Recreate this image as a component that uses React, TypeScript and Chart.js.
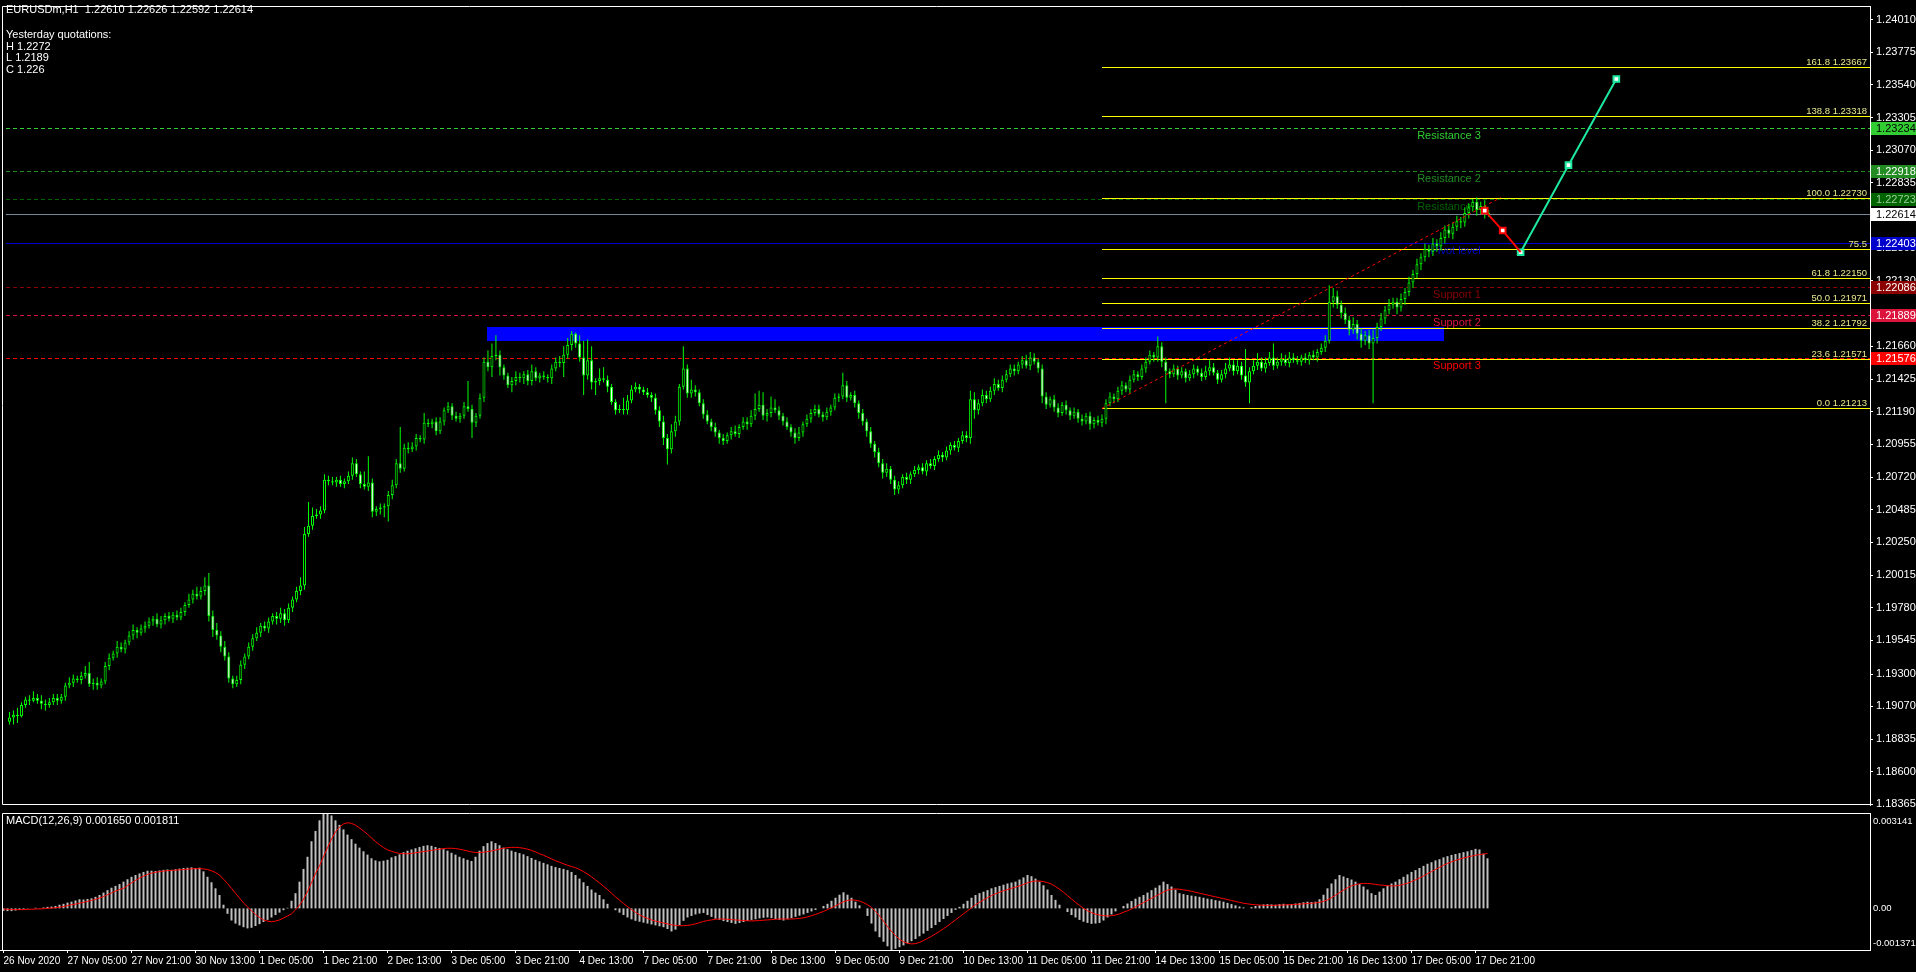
import React, { useEffect, useRef } from 'react';
import { Chart, registerables } from 'chart.js';

Chart.register(...registerables);

// ---------------- text ----------------
const SYMBOL_TEXT = 'EURUSDm,H1  1.22610 1.22626 1.22592 1.22614';
const INFO_LINES = ['Yesterday quotations:', 'H 1.2272', 'L 1.2189', 'C 1.226'];
const MACD_TITLE = 'MACD(12,26,9) 0.001650 0.001811';

// ---------------- time axis ----------------
const TIME_LABELS = [
  '26 Nov 2020', '27 Nov 05:00', '27 Nov 21:00', '30 Nov 13:00', '1 Dec 05:00', '1 Dec 21:00',
  '2 Dec 13:00', '3 Dec 05:00', '3 Dec 21:00', '4 Dec 13:00', '7 Dec 05:00', '7 Dec 21:00',
  '8 Dec 13:00', '9 Dec 05:00', '9 Dec 21:00', '10 Dec 13:00', '11 Dec 05:00', '11 Dec 21:00',
  '14 Dec 13:00', '15 Dec 05:00', '15 Dec 21:00', '16 Dec 13:00', '17 Dec 05:00', '17 Dec 21:00',
];
const LABEL_STEP = 16; // bars between time labels

// ---------------- price axis ----------------
const PRICE_TICKS = [
  1.24010, 1.23775, 1.23540, 1.23305, 1.23070, 1.22835, 1.22600, 1.22365, 1.22130, 1.21895,
  1.21660, 1.21425, 1.21190, 1.20955, 1.20720, 1.20485, 1.20250, 1.20015, 1.19780, 1.19545,
  1.19300, 1.19070, 1.18835, 1.18600, 1.18365,
];
const PRICE_MAX = 1.24108;
const PRICE_MIN = 1.18361;

// ---------------- candles (H1, prices in pips: 11899 = 1.1899) ----------------
const FIRST_OPEN = 11896;
const CLOSES = [
  // 26 Nov 13:00-23:00
  11899, 11901, 11900, 11908, 11912, 11911, 11913, 11911, 11909, 11908, 11910,
  // 27 Nov
  11913, 11911, 11914, 11922, 11924, 11927, 11926, 11929, 11931, 11923, 11924, 11922, 11925, 11936, 11942, 11945, 11950, 11948, 11953, 11958, 11962, 11960, 11963, 11965,
  // 30 Nov
  11968, 11970, 11966, 11969, 11972, 11970, 11973, 11971, 11975, 11980, 11984, 11988, 11986, 11990, 11994, 11972, 11962, 11958, 11950, 11943, 11927, 11923, 11926, 11937,
  // 1 Dec
  11943, 11950, 11956, 11960, 11965, 11963, 11968, 11972, 11970, 11974, 11969, 11978, 11984, 11990, 11994, 12031, 12037, 12044, 12045, 12048, 12070, 12069, 12068, 12070,
  // 2 Dec
  12067, 12069, 12073, 12082, 12074, 12067, 12065, 12068, 12047, 12049, 12050, 12051, 12059, 12066, 12082, 12078, 12093, 12092, 12094, 12100, 12099, 12111, 12110, 12112,
  // 3 Dec
  12105, 12112, 12120, 12123, 12116, 12114, 12116, 12123, 12121, 12111, 12116, 12129, 12155, 12151, 12159, 12160, 12151, 12145, 12138, 12141, 12144, 12143, 12146, 12141,
  // 4 Dec
  12148, 12143, 12145, 12144, 12143, 12150, 12155, 12154, 12160, 12167, 12175, 12168, 12158, 12145, 12156, 12140, 12141, 12143, 12142, 12137, 12126, 12120, 12121, 12120,
  // 7 Dec
  12127, 12135, 12137, 12135, 12133, 12131, 12129, 12120, 12112, 12100, 12092, 12105, 12112, 12137, 12150, 12132, 12135, 12133, 12125, 12117, 12112, 12108, 12104, 12100,
  // 8 Dec
  12098, 12102, 12105, 12103, 12108, 12112, 12110, 12116, 12121, 12124, 12116, 12118, 12122, 12120, 12116, 12112, 12108, 12104, 12100, 12104, 12110, 12114, 12118, 12121,
  // 9 Dec
  12117, 12115, 12119, 12122, 12129, 12130, 12138, 12129, 12131, 12125, 12118, 12112, 12105, 12096, 12090, 12082, 12075, 12078, 12070, 12063, 12066, 12072, 12070, 12074,
  // 10 Dec
  12077, 12079, 12076, 12082, 12080, 12085, 12088, 12086, 12091, 12095, 12093, 12098, 12102, 12100, 12128, 12120, 12125, 12131, 12128, 12134, 12139, 12136, 12142, 12146,
  // 11 Dec
  12150, 12148, 12153, 12156, 12152, 12158, 12155, 12150, 12130, 12124, 12128, 12122, 12118, 12124, 12120, 12116, 12119, 12114, 12112, 12116, 12110, 12113, 12111, 12114,
  // 14 Dec
  12125, 12130, 12128, 12134, 12138, 12135, 12142, 12146, 12144, 12150, 12155, 12160, 12158, 12166, 12155, 12148, 12146, 12150, 12145, 12148, 12143, 12146, 12150, 12147,
  // 15 Dec
  12144, 12148, 12151, 12147, 12142, 12146, 12150, 12153, 12148, 12152, 12145, 12140, 12148, 12152, 12155, 12150, 12154, 12158, 12152, 12155, 12157, 12154, 12158, 12156,
  // 16 Dec
  12155, 12158, 12156, 12160, 12158, 12162, 12165, 12170, 12198, 12202, 12196, 12190, 12185, 12178, 12182, 12175, 12170, 12174, 12168, 12172, 12180, 12186, 12192, 12196,
  // 17 Dec
  12198, 12194, 12200, 12205, 12212, 12218, 12225, 12230, 12236, 12234, 12240, 12238, 12244, 12250, 12247, 12252, 12256, 12255, 12262, 12266, 12270, 12264, 12267, 12262,
  // 18 Dec 00:00
  12261,
];
const UPPER_WICK = [
  4, 3, 5, 2, 2, 3, 5, 3, 4, 3, 3,
  3, 3, 2, 2, 4, 3, 2, 3, 5, 8, 3, 4, 2, 3, 3, 2, 4, 3, 2, 3, 4, 2, 3, 3,
  3, 2, 4, 3, 2, 3, 2, 3, 3, 2, 4, 3, 5, 3, 6, 9, 4, 5, 3, 4, 3, 2, 3, 3,
  2, 3, 3, 4, 2, 3, 3, 2, 3, 4, 3, 3, 2, 3, 6, 5, 17, 6, 4, 3, 4, 3, 3, 2,
  3, 2, 3, 4, 3, 2, 9, 19, 3, 2, 3, 2, 3, 4, 3, 26, 3, 4, 3, 3, 2, 7, 3, 2,
  3, 3, 2, 3, 2, 3, 2, 3, 18, 3, 2, 3, 3, 8, 9, 14, 3, 2, 2, 3, 4, 3, 2, 3,
  5, 3, 2, 3, 2, 3, 3, 4, 6, 5, 2, 1, 6, 12, 15, 10, 2, 7, 8, 3, 2, 2, 3, 8,
  4, 3, 3, 2, 2, 3, 2, 3, 3, 4, 3, 5, 4, 2, 16, 3, 7, 3, 2, 3, 3, 2, 3, 2,
  3, 2, 3, 4, 2, 3, 3, 4, 11, 10, 9, 3, 8, 6, 3, 2, 3, 2, 3, 4, 2, 3, 3, 3,
  3, 2, 3, 2, 3, 2, 9, 3, 2, 3, 2, 3, 2, 3, 2, 3, 3, 4, 2, 3, 3, 2, 3, 2,
  3, 2, 3, 2, 3, 2, 3, 2, 3, 2, 3, 2, 3, 3, 6, 5, 3, 4, 3, 3, 4, 3, 3, 3,
  3, 3, 2, 3, 4, 4, 3, 2, 3, 3, 2, 3, 3, 2, 3, 2, 3, 2, 3, 2, 3, 2, 3, 3,
  3, 3, 2, 3, 3, 2, 3, 3, 2, 3, 3, 3, 2, 7, 3, 3, 2, 3, 2, 3, 2, 3, 3, 2,
  3, 4, 5, 3, 2, 3, 4, 5, 3, 4, 3, 19, 3, 4, 6, 3, 4, 4, 10, 3, 4, 3, 4, 3,
  3, 2, 3, 2, 3, 2, 3, 4, 12, 6, 4, 3, 4, 3, 5, 3, 4, 3, 4, 6, 3, 4, 3, 4,
  3, 3, 4, 3, 4, 3, 4, 3, 4, 3, 4, 3, 4, 3, 4, 3, 4, 3, 4, 3, 2, 3, 3, 4,
  2,
];
const LOWER_WICK = [
  2, 5, 5, 1, 2, 3, 1, 2, 4, 4, 2,
  2, 3, 2, 3, 2, 3, 2, 3, 2, 2, 4, 3, 2, 2, 3, 2, 3, 2, 3, 2, 3, 4, 2, 3,
  2, 3, 2, 3, 3, 2, 3, 2, 2, 3, 2, 3, 2, 2, 3, 4, 5, 3, 4, 3, 3, 3, 2, 3,
  3, 2, 3, 2, 3, 2, 3, 2, 4, 3, 4, 2, 3, 2, 3, 3, 2, 3, 2, 3, 2, 3, 2, 3,
  2, 3, 2, 3, 2, 3, 2, 3, 4, 3, 4, 7, 11, 3, 2, 3, 2, 3, 2, 3, 2, 3, 2, 3,
  3, 2, 3, 2, 3, 2, 3, 2, 2, 11, 3, 2, 3, 3, 7, 3, 6, 3, 2, 5, 3, 3, 4, 3,
  3, 2, 3, 2, 3, 4, 2, 3, 10, 3, 4, 3, 3, 14, 3, 5, 9, 3, 2, 4, 2, 3, 2, 3,
  3, 2, 2, 3, 2, 2, 3, 3, 4, 5, 11, 3, 4, 3, 2, 3, 3, 3, 2, 3, 2, 3, 3, 4,
  3, 2, 3, 2, 3, 2, 4, 2, 3, 2, 3, 4, 3, 2, 3, 3, 2, 3, 4, 2, 3, 2, 3, 2,
  2, 3, 2, 3, 2, 3, 2, 3, 2, 3, 4, 3, 4, 3, 4, 3, 4, 3, 3, 4, 3, 2, 3, 3,
  2, 3, 2, 3, 2, 3, 2, 3, 2, 3, 2, 3, 2, 3, 4, 6, 3, 2, 3, 2, 3, 2, 3, 2,
  2, 3, 2, 3, 2, 3, 2, 3, 5, 3, 2, 3, 3, 2, 3, 3, 2, 3, 3, 2, 4, 3, 2, 3,
  4, 2, 3, 2, 3, 2, 3, 2, 3, 2, 3, 2, 3, 3, 4, 23, 3, 2, 3, 2, 3, 2, 3, 2,
  3, 2, 3, 2, 3, 2, 3, 2, 3, 2, 3, 3, 15, 2, 3, 2, 3, 2, 3, 2, 3, 2, 3, 2,
  2, 3, 2, 3, 2, 3, 2, 3, 2, 4, 3, 4, 3, 4, 3, 4, 5, 3, 4, 43, 4, 3, 4, 3,
  3, 5, 3, 4, 3, 4, 3, 4, 3, 4, 3, 4, 3, 4, 3, 4, 3, 4, 3, 4, 3, 4, 3, 4,
  2,
];

// ---------------- MACD (units of 0.00001) ----------------
const MACD_MAIN = [
  -8, -9, -9, -7, -5, -3,
  -1, 0, 2, 1, 3, 5, 6,
  8, 12, 15, 19, 22, 26, 30, 29, 31, 33, 38, 44,
  52, 60, 68, 74, 80, 88,
  96, 104, 110, 115, 120, 124,
  124, 123, 125, 127, 128, 127, 129, 131, 133, 134, 135, 133,
  134, 122, 104, 86, 66, 44, 12, -18, -40, -50, -56, -62, -66, -64,
  -58, -52, -45, -38, -30, -22, -14, -6, 2,
  25, 50, 88, 130, 170, 221, 255, 290, 314, 312, 306,
  290, 275, 260, 243,
  228, 213, 200, 188, 177,
  165, 158, 155, 157, 160,
  168, 172, 178, 185,
  190, 194, 198, 202, 206, 208, 206, 202, 199,
  195, 190, 183, 177, 170, 165, 160, 156,
  170, 190, 205, 215, 221,
  215, 208, 200, 195, 190, 186, 182, 178, 172, 166, 160, 155,
  150, 145, 140, 136, 133, 130, 126, 120, 110,
  98, 86, 74, 62, 52, 44,
  30, 15, 0,
  -6, -14, -22, -30, -36, -41,
  -44, -47, -50, -53, -56, -59, -62, -68,
  -76, -70, -55, -41,
  -30, -25, -20, -17, -15,
  -22, -28, -34, -38, -42, -45, -48, -51,
  -48, -45, -41, -38, -36, -33, -31, -30, -32, -35, -38, -40,
  -36, -32, -28, -24, -20, -15, -10, -5, 0,
  8, 15, 25, 35, 45, 53,
  45, 35, 22, 10, 0,
  -25, -50, -76,
  -95, -110, -125, -137, -133, -128,
  -122, -115, -108, -101,
  -92, -83, -74, -65, -55, -45, -35, -25,
  -15, -5, 5, 15, 25,
  35, 44, 50, 55, 60, 66,
  70, 74, 78, 82, 85, 88,
  95, 102, 110, 106,
  98, 88, 76, 62, 44,
  28, 12, 0,
  -12, -22, -30, -38, -44, -48, -51, -50, -48,
  -40, -30, -20, -10, 0,
  8, 16, 24, 32, 38, 44,
  52, 60, 68, 76, 88,
  80, 72, 62, 50,
  47, 44, 42, 40, 38, 35, 32, 30, 27, 25, 22,
  18, 14, 10, 6, 3, 0,
  4, 8, 10, 13, 14, 13, 12, 14, 15, 13, 14, 16,
  18, 20, 22, 21, 22, 30,
  45, 66, 82, 96, 110,
  105, 100, 95, 88,
  80, 72, 62, 50, 44,
  55, 66, 75, 82, 88,
  96, 104, 112, 120, 126, 133,
  140, 147, 152, 158, 162, 168,
  172, 176, 179, 182, 185, 188,
  192, 196, 194, 180, 165,
];
const MACD_SIGNAL = [
  -2, -3, -4, -4, -4, -4, -3, -3, -2, -2, -1, 0, 1,
  2, 4, 6, 9, 12,
  14, 17, 20, 23, 26, 30, 34, 39, 45, 51, 57, 62, 66,
  75, 84, 92, 100, 106, 112, 116,
  119, 121, 123, 124, 125, 126, 127, 128, 129, 130, 131,
  131, 130, 128, 124, 118, 110,
  96, 82, 66, 50, 34, 18,
  5, -8, -20, -30, -38, -42, -44, -42,
  -38, -32, -25, -18,
  -5, 10, 30, 55, 85, 115,
  140, 170, 200, 228, 252, 268, 278, 282,
  280, 274, 265, 255, 244, 232, 220, 210,
  200, 193, 188, 184, 181, 180, 180, 181, 183, 185,
  187, 189, 191, 193, 195, 197, 198, 198, 197, 195, 192, 189, 186, 184, 184, 185, 187, 189,
  192, 195, 198, 200, 201, 201, 200, 198, 195, 191, 186, 180,
  175, 169, 163, 157, 152, 147, 142, 138, 134, 128, 121, 113,
  104, 94, 84, 73, 62, 50,
  38, 27, 16, 6, -4, -13, -21, -28, -33, -38, -42, -45, -48,
  -51, -54, -56, -57, -57, -56, -54, -51, -47, -43, -40, -38, -36, -35, -35, -36, -37, -38,
  -39, -40, -41, -41, -41, -40, -39, -38, -37, -36, -35, -35, -35, -35, -34, -33, -31, -28,
  -24, -20, -15, -10, -4, 2, 8, 15, 22,
  26, 28, 27, 24, 19, 12,
  3, -10, -25, -42, -60, -76, -90, -102, -110,
  -115, -117, -116, -112, -106, -99, -92,
  -84, -76, -67, -58, -48, -38, -28, -18, -8,
  2, 12, 20, 28, 35, 42, 48, 53, 58, 62, 66, 70, 74, 79, 84,
  88, 90, 90, 88, 85, 80,
  72, 63, 53, 42, 31, 20, 10, 0, -8,
  -14, -19, -22, -24, -25, -24, -22, -18,
  -13, -8, -2, 5, 12, 19, 26, 33, 40, 47, 54,
  60, 63, 64, 63, 61, 59, 56, 53, 50,
  47, 44, 41, 38, 35, 32, 29, 26, 23, 20, 17, 15, 13, 12, 11, 10, 10, 10, 10, 11, 11, 12, 12, 13,
  14, 15, 16, 17, 18, 20, 23, 28, 35,
  43, 52, 60, 68, 74, 78, 81, 82, 82,
  81, 79, 77, 76, 75, 74, 74,
  76, 79, 83, 88, 94, 100, 107, 114, 121, 128, 135, 142,
  148, 153, 158, 162, 166, 169, 172, 175, 177, 179, 181,
];
const MACD_MAX = 0.003141;
const MACD_MIN = -0.001371;
const MACD_TICKS = [0.003141, 0, -0.001371];
const MACD_TICK_LABELS = ['0.003141', '0.00', '-0.001371'];

// ---------------- pivot levels ----------------
const LEVEL_NAMES = ['Resistance 3', 'Resistance 2', 'Resistance 1', 'Pivot level', 'Support 1', 'Support 2', 'Support 3'];
const LEVEL_PRICES = [1.23234, 1.22918, 1.22723, 1.22403, 1.22086, 1.21889, 1.21576];
const LEVEL_COLORS = ['#32cd32', '#228b22', '#006400', '#0000cd', '#8b0000', '#dc143c', '#ff0000'];
const LEVEL_TAG_TEXT = ['#000000', '#ffffff', '#9acd9a', '#ffffff', '#ffffff', '#ffffff', '#ffffff'];
const LEVEL_DASHED = [true, true, true, false, true, true, true];
const LEVEL_LABEL_BAR = 369;
const CURRENT_PRICE = 1.22614;

// ---------------- fibonacci ----------------
const FIB_PRICES = [1.21213, 1.21571, 1.21792, 1.21971, 1.22150, 1.22358, 1.22730, 1.23318, 1.23667];
const FIB_LABELS = ['0.0 1.21213', '23.6 1.21571', '38.2 1.21792', '50.0 1.21971', '61.8 1.22150', '75.5', '100.0 1.22730', '138.8 1.23318', '161.8 1.23667'];
const FIB_START_BAR = 274;
const FIB_ANCHOR_BARS = [274, 374];
const FIB_ANCHOR_PRICES = [1.21213, 1.22730];

// ---------------- zone & projection ----------------
const ZONE_BARS = [120, 360];
const ZONE_PRICES = [1.2170, 1.2180];
const PROJ_BARS = [370, 374.5, 379, 391, 403];
const PROJ_PRICES = [1.22636, 1.22493, 1.22337, 1.22963, 1.23583];

// ---------------- layout constants ----------------
const W = 1916;
const MAIN_H = 811;
const MACD_H = 161;
const AXIS_W = 46;
const X_MIN = -0.875;
const X_MAX = 466.625;
const FONT = '"Liberation Sans", Arial, sans-serif';
const BULL = '#00ff00';

function buildCandles() {
  const wicks: any[] = [];
  const bodies: any[] = [];
  const fills: string[] = [];
  let prev = FIRST_OPEN;
  for (let i = 0; i < CLOSES.length; i++) {
    const o = prev;
    const c = CLOSES[i];
    const hi = Math.max(o, c) + (UPPER_WICK[i] ?? 2);
    const lo = Math.min(o, c) - (LOWER_WICK[i] ?? 2);
    wicks.push({ x: i, y: [lo / 10000, hi / 10000] });
    bodies.push({ x: i, y: [o / 10000, c / 10000] });
    fills.push(c >= o ? '#000000' : '#ffffff');
    prev = c;
  }
  return { wicks, bodies, fills };
}

const mainPlugin = {
  id: 'mt4main',
  beforeDatasetsDraw(chart: any) {
    const { ctx, chartArea: a, scales } = chart;
    const xs = scales.x;
    const ys = scales.y;
    const px = (v: number) => xs.getPixelForValue(v);
    const py = (v: number) => Math.round(ys.getPixelForValue(v)) + 0.5;
    ctx.save();
    ctx.beginPath();
    ctx.rect(a.left, a.top, a.right - a.left, a.bottom - a.top);
    ctx.clip();

    // zone rectangle
    const zt = Math.round(ys.getPixelForValue(ZONE_PRICES[1]));
    const zb = Math.round(ys.getPixelForValue(ZONE_PRICES[0]));
    const zl = Math.round(px(ZONE_BARS[0]) - 0.5);
    const zr = Math.round(px(ZONE_BARS[1]) - 0.5);
    ctx.fillStyle = '#0000ff';
    ctx.fillRect(zl, zt, zr - zl, zb - zt);

    // pivot lines
    ctx.lineWidth = 1;
    LEVEL_PRICES.forEach((p, k) => {
      const yy = py(p);
      ctx.strokeStyle = LEVEL_COLORS[k];
      ctx.setLineDash(LEVEL_DASHED[k] ? [4, 3] : []);
      ctx.beginPath();
      ctx.moveTo(a.left, yy);
      ctx.lineTo(a.right, yy);
      ctx.stroke();
    });
    ctx.setLineDash([]);

    // current price line
    ctx.strokeStyle = '#778899';
    ctx.beginPath();
    ctx.moveTo(a.left, py(CURRENT_PRICE));
    ctx.lineTo(a.right, py(CURRENT_PRICE));
    ctx.stroke();

    // fibonacci
    const fx = Math.round(px(FIB_START_BAR));
    ctx.font = `9.5px ${FONT}`;
    ctx.textAlign = 'right';
    ctx.textBaseline = 'alphabetic';
    FIB_PRICES.forEach((p, k) => {
      const yy = py(p);
      ctx.strokeStyle = '#ffff00';
      ctx.beginPath();
      ctx.moveTo(fx, yy);
      ctx.lineTo(a.right, yy);
      ctx.stroke();
      ctx.fillStyle = '#e8e88c';
      ctx.fillText(FIB_LABELS[k], a.right - 3, yy - 2.5);
    });

    // level names
    ctx.font = `11px ${FONT}`;
    ctx.textAlign = 'right';
    ctx.textBaseline = 'middle';
    LEVEL_NAMES.forEach((name, k) => {
      ctx.fillStyle = LEVEL_COLORS[k];
      ctx.fillText(name, px(LEVEL_LABEL_BAR), py(LEVEL_PRICES[k]) + 7);
    });
    ctx.restore();
  },
  afterDraw(chart: any) {
    const { ctx, chartArea: a, scales } = chart;
    const ys = scales.y;
    ctx.save();
    // frame
    ctx.strokeStyle = '#ffffff';
    ctx.lineWidth = 1;
    ctx.beginPath();
    ctx.moveTo(2.5, a.bottom - 0.5);
    ctx.lineTo(2.5, a.top + 0.5);
    ctx.lineTo(a.right, a.top + 0.5);
    ctx.moveTo(2.5, a.bottom - 0.5);
    ctx.lineTo(a.right, a.bottom - 0.5);
    ctx.stroke();

    // header text
    ctx.fillStyle = '#ffffff';
    ctx.font = `11px ${FONT}`;
    ctx.textAlign = 'left';
    ctx.textBaseline = 'middle';
    ctx.fillText(SYMBOL_TEXT, 6, 10);
    INFO_LINES.forEach((t, k) => ctx.fillText(t, 6, 35 + k * 11.5));

    // price tags on axis
    const tag = (p: number, bg: string, fg: string) => {
      const yy = Math.round(ys.getPixelForValue(p));
      ctx.fillStyle = bg;
      ctx.fillRect(a.right + 1, yy - 6, W - a.right - 1, 13);
      ctx.fillStyle = fg;
      ctx.fillText(p.toFixed(5), a.right + 6, yy + 0.5);
    };
    LEVEL_PRICES.forEach((p, k) => tag(p, LEVEL_COLORS[k], LEVEL_TAG_TEXT[k]));
    tag(CURRENT_PRICE, '#ffffff', '#000000');
    ctx.restore();
  },
};

const macdPlugin = {
  id: 'mt4macd',
  afterDraw(chart: any) {
    const { ctx, chartArea: a, scales } = chart;
    const ys = scales.y;
    ctx.save();
    ctx.strokeStyle = '#ffffff';
    ctx.lineWidth = 1;
    ctx.beginPath();
    ctx.moveTo(2.5, a.bottom);
    ctx.lineTo(2.5, a.top + 0.5);
    ctx.lineTo(a.right, a.top + 0.5);
    ctx.stroke();
    ctx.fillStyle = '#ffffff';
    ctx.font = `11px ${FONT}`;
    ctx.textAlign = 'left';
    ctx.textBaseline = 'middle';
    ctx.fillText(MACD_TITLE, 6, a.top + 8);
    ctx.font = `9.5px ${FONT}`;
    MACD_TICKS.forEach((v, k) => {
      let yy = ys.getPixelForValue(v);
      if (k === 0) yy = a.top + 8;
      if (k === MACD_TICKS.length - 1) yy = a.bottom - 7;
      ctx.fillText(MACD_TICK_LABELS[k], a.right + 3, yy);
    });
    ctx.restore();
  },
};

export default function App() {
  const mainRef = useRef<HTMLCanvasElement>(null);
  const macdRef = useRef<HTMLCanvasElement>(null);

  useEffect(() => {
    document.body.style.margin = '0';
    document.body.style.background = '#000000';
    const { wicks, bodies, fills } = buildCandles();
    const proj = PROJ_BARS.map((b, k) => ({ x: b, y: PROJ_PRICES[k] }));

    const main = new Chart(mainRef.current as HTMLCanvasElement, {
      type: 'bar',
      data: {
        datasets: [
          {
            type: 'line', label: 'down', data: proj.slice(0, 3) as any,
            borderColor: '#ff0000', borderWidth: 2, tension: 0,
            pointStyle: 'rect', pointRadius: [4, 4, 0] as any, pointBackgroundColor: '#ffffff',
            pointBorderColor: '#ff0000', pointBorderWidth: 2, order: 0,
          } as any,
          {
            type: 'line', label: 'up', data: proj.slice(2) as any,
            borderColor: '#1de9a0', borderWidth: 2, tension: 0,
            pointStyle: 'rect', pointRadius: 4, pointBackgroundColor: '#ffffff',
            pointBorderColor: '#1de9a0', pointBorderWidth: 2, order: 0,
          } as any,
          {
            type: 'line', label: 'fib', data: FIB_ANCHOR_BARS.map((b, k) => ({ x: b, y: FIB_ANCHOR_PRICES[k] })) as any,
            borderColor: '#ff0000', borderWidth: 1, borderDash: [3, 3], pointRadius: 0, tension: 0, order: 1,
          } as any,
          {
            type: 'bar', label: 'bodies', data: bodies as any, backgroundColor: fills,
            borderColor: BULL, borderWidth: 1, borderSkipped: false, barThickness: 3,
            grouped: false, minBarLength: 1, inflateAmount: 0, order: 2,
          } as any,
          {
            type: 'bar', label: 'wicks', data: wicks as any, backgroundColor: BULL,
            barThickness: 1, grouped: false, minBarLength: 1, inflateAmount: 0, order: 3,
          } as any,
        ],
      },
      options: {
        responsive: false,
        maintainAspectRatio: false,
        animation: false,
        devicePixelRatio: 1,
        events: [],
        layout: { padding: { top: 2, bottom: 1, left: 0, right: 0 } },
        plugins: { legend: { display: false }, tooltip: { enabled: false } },
        scales: {
          x: {
            type: 'linear', min: X_MIN, max: X_MAX, offset: false, display: false,
            grid: { offset: false },
          },
          y: {
            type: 'linear', position: 'right', min: PRICE_MIN, max: PRICE_MAX, beginAtZero: false,
            afterBuildTicks: (s: any) => { s.ticks = PRICE_TICKS.map((v) => ({ value: v })); },
            afterFit: (s: any) => { s.width = AXIS_W; s.paddingTop = 0; s.paddingBottom = 0; },
            ticks: {
              autoSkip: false, color: '#ffffff', padding: 3,
              font: { family: FONT, size: 11 },
              callback: (v: any) => Number(v).toFixed(5),
            },
            grid: { drawOnChartArea: false, drawTicks: true, tickLength: 3, color: '#ffffff' },
            border: { display: true, color: '#ffffff' },
          },
        },
      } as any,
      plugins: [mainPlugin as any],
    });

    const macd = new Chart(macdRef.current as HTMLCanvasElement, {
      type: 'bar',
      data: {
        datasets: [
          {
            type: 'line', label: 'signal',
            data: MACD_SIGNAL.map((v, i) => ({ x: i, y: v / 100000 })) as any,
            borderColor: '#ff0000', borderWidth: 1, pointRadius: 0, tension: 0, order: 0,
          } as any,
          {
            type: 'bar', label: 'macd',
            data: MACD_MAIN.map((v, i) => ({ x: i, y: v / 100000 })) as any,
            backgroundColor: '#c0c0c0', barThickness: 2, grouped: false, inflateAmount: 0, order: 1,
          } as any,
        ],
      },
      options: {
        responsive: false,
        maintainAspectRatio: false,
        animation: false,
        devicePixelRatio: 1,
        events: [],
        layout: { padding: { top: 2, bottom: 0, left: 0, right: 0 } },
        plugins: { legend: { display: false }, tooltip: { enabled: false } },
        scales: {
          x: {
            type: 'linear', min: X_MIN, max: X_MAX, offset: false, position: 'bottom',
            afterBuildTicks: (s: any) => { s.ticks = TIME_LABELS.map((_, k) => ({ value: k * LABEL_STEP })); },
            afterFit: (s: any) => { s.height = 22; s.paddingLeft = 0; s.paddingRight = 0; },
            ticks: {
              autoSkip: false, maxRotation: 0, minRotation: 0, align: 'start',
              color: '#ffffff', padding: 2, font: { family: FONT, size: 10 },
              callback: (_v: any, i: number) => TIME_LABELS[i],
            },
            grid: { drawOnChartArea: false, drawTicks: true, tickLength: 3, color: '#ffffff', offset: false },
            border: { display: true, color: '#ffffff' },
          },
          y: {
            type: 'linear', position: 'right', min: MACD_MIN, max: MACD_MAX, beginAtZero: false,
            afterFit: (s: any) => { s.width = AXIS_W; s.paddingTop = 0; s.paddingBottom = 0; },
            ticks: { display: false },
            grid: { display: false },
            border: { display: true, color: '#ffffff' },
          },
        },
      } as any,
      plugins: [macdPlugin as any],
    });

    return () => {
      main.destroy();
      macd.destroy();
    };
  }, []);

  return (
    <div style={{ position: 'relative', width: W, height: MAIN_H + MACD_H, background: '#000000', overflow: 'hidden' }}>
      <canvas ref={mainRef} width={W} height={MAIN_H}
        style={{ position: 'absolute', left: 0, top: 0, width: W, height: MAIN_H, display: 'block' }} />
      <canvas ref={macdRef} width={W} height={MACD_H}
        style={{ position: 'absolute', left: 0, top: MAIN_H, width: W, height: MACD_H, display: 'block' }} />
    </div>
  );
}
